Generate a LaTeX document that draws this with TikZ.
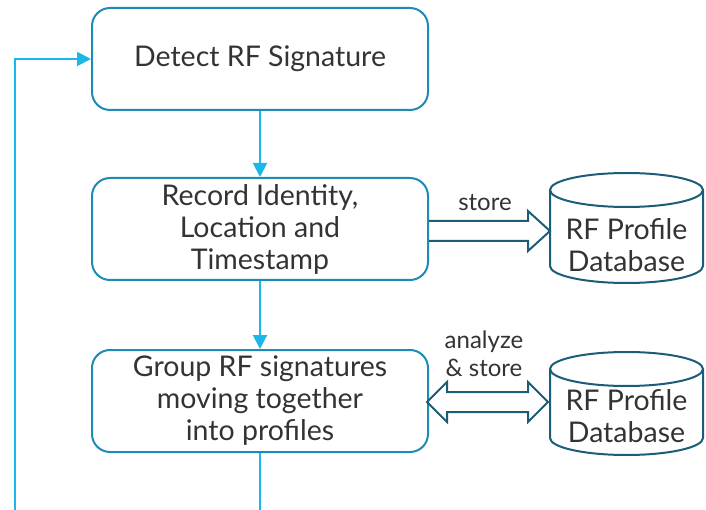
\documentclass[tikz,border=0pt]{standalone}
\usepackage{fontspec}
\setmainfont{Lato}
\usepackage{xcolor}
\usepackage{tikz}
\usetikzlibrary{arrows.meta,calc}

\definecolor{boxblue}{HTML}{1E8BB5}
\definecolor{flowblue}{HTML}{1AB7EA}
\definecolor{dbteal}{HTML}{1B5D78}
\definecolor{txtgray}{HTML}{333333}

\tikzset{
  stepbox/.style={draw=boxblue, line width=2pt, rounded corners=18pt,
    minimum width=336pt, minimum height=102pt, align=center,
    text=txtgray, font=\fontsize{28.5}{32}\selectfont},
  flow/.style={draw=flowblue, line width=2pt, -{Triangle[length=14pt,width=14pt]}},
  dbline/.style={draw=dbteal, line width=2pt},
  dbtext/.style={align=center, text=txtgray, font=\fontsize{28.5}{32}\selectfont},
  lbl/.style={align=center, text=txtgray, font=\fontsize{24}{28}\selectfont}
}

\begin{document}
\begin{tikzpicture}[x=1pt,y=-1pt]
 \useasboundingbox (0,0) rectangle (706,510);
 % process steps
 \node (detect) at (260,59) [stepbox] {Detect RF Signature};
 \node (record) at (260,229) [stepbox] {Record Identity,\\Location and\\Timestamp};
 \node (group) at (260,401) [stepbox] {Group RF signatures\\moving together\\into profiles};

 \draw [flow] (detect) -- (record);
 \draw [flow] (record) -- (group);

 % loop back
 \coordinate (loopin) at (260,510);
 \coordinate (loopout) at (15,510);
 \draw [flowblue, line width=2pt] (group.south) -- (loopin);
 \draw [flow] (loopout) |- (detect.west);

 % databases
 \draw [dbline] (550,190) -- (550,266) arc [start angle=180, end angle=0, x radius=76.5, y radius=17]
   -- (703,190);
 \draw [dbline] (626.5,190) ellipse [x radius=76.5, y radius=17];
 \node (db1) at (626.5,245) [dbtext] {RF Profile\\Database};

 \draw [dbline] (550,369) -- (550,438) arc [start angle=180, end angle=0, x radius=76.5, y radius=17]
   -- (703,369);
 \draw [dbline] (626.5,369) ellipse [x radius=76.5, y radius=17];
 \node (db2) at (626.5,416) [dbtext] {RF Profile\\Database};

 % block arrows
 \draw [dbline, line join=miter] (record.east |- 0,221) -- (528,221) -- (528,211) -- (550,231)
   -- (528,251) -- (528,241) -- (record.east |- 0,241);
 \node (store) at (485,203) [lbl] {store};

 \draw [dbline, line join=miter] (427,402) -- (447,382) -- (447,392) -- (528,392) -- (528,382)
   -- (548,402) -- (528,422) -- (528,412) -- (447,412) -- (447,422) -- cycle;
 \node (anstore) at (484,354) [lbl] {analyze\\\& store};
\end{tikzpicture}
\end{document}
